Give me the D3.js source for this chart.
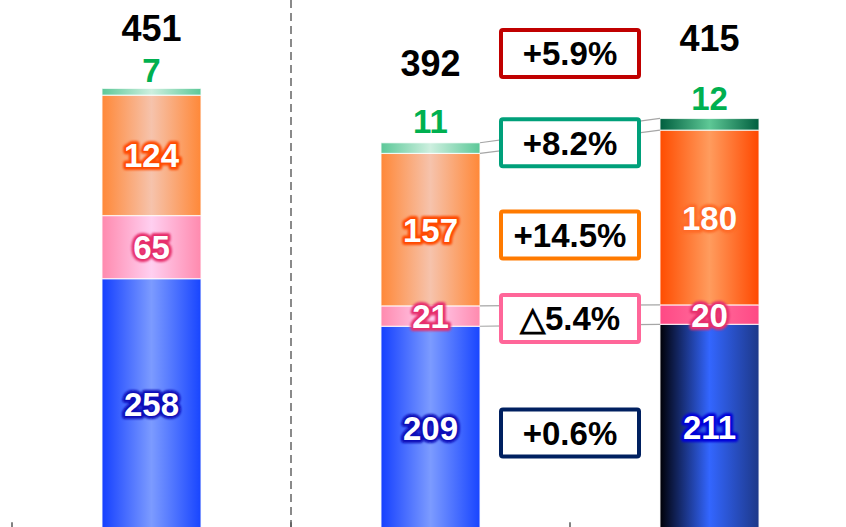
<!DOCTYPE html>
<html><head><meta charset="utf-8">
<script src="https://cdn.jsdelivr.net/npm/d3@7"></script>
<style>body{margin:0;background:#fff}svg{display:block}</style>
</head><body><svg id="c" width="846" height="527"></svg>
<script>
// ---- data ----
const categories = ["P1", "P2", "P3"];
const seriesKeys = ["blue", "pink", "orange", "green"];
const blueValues = [258, 209, 211];
const pinkValues = [65, 21, 20];
const orangeValues = [124, 157, 180];
const greenValues = [7, 11, 12];
const totalLabels = [451, 392, 415];
const changeLabels = ["+5.9%", "+8.2%", "+14.5%", "\u25B35.4%", "+0.6%"];
const changeLevels = [490, 398, 303, 217, 99];   // annotation anchors in data units

// ---- layout / styles ----
const W = 846, H = 527;
const svg = d3.select("#c");
const x = d3.scaleBand().domain(categories).range([12, 849]).paddingInner(0.645).paddingOuter(0.3225);
const y = d3.scaleLinear().domain([0, 545]).range([529.2, 0]);
const step = x.step(), bw = x.bandwidth();

const rows = categories.map((c, i) => ({cat: c, blue: blueValues[i], pink: pinkValues[i], orange: orangeValues[i], green: greenValues[i]}));
const stacked = d3.stack().keys(seriesKeys)(rows);

const grad = {
  light: {
    blue: [["0", "#1540FF"], ["0.5", "#7C9BFF"], ["1", "#1845FF"]],
    pink: [["0", "#FF8AAE"], ["0.5", "#FFCFF0"], ["1", "#FF8AAE"]],
    orange: [["0", "#FF8838"], ["0.5", "#F6C3AC"], ["1", "#FF8838"]],
    green: [["0", "#5CC898"], ["0.5", "#CDEFDF"], ["1", "#5CC898"]]
  },
  dark: {
    blue: [["0", "#000006"], ["0.5", "#3366FF"], ["1", "#1D3888"]],
    pink: [["0", "#FF4884"], ["0.5", "#FF6E9E"], ["1", "#FF4884"]],
    orange: [["0", "#FF4C00"], ["0.5", "#FF9C5E"], ["1", "#FF4800"]],
    green: [["0", "#005E3E"], ["0.5", "#5EC896"], ["1", "#005E3E"]]
  }
};
const glow = {
  light: {blue: "#0808B8", pink: "#E62E6C", orange: "#FF4A06", green: null},
  dark: {blue: "#0000D8", pink: "#E62E6C", orange: "#FF6A28", green: null}
};
const styleOf = i => (i === 2 ? "dark" : "light");

const defs = svg.append("defs");
["light", "dark"].forEach(st => {
  seriesKeys.forEach(k => {
    const g = defs.append("linearGradient").attr("id", `g-${st}-${k}`)
      .attr("x1", "0").attr("x2", "1").attr("y1", "0").attr("y2", "0");
    grad[st][k].forEach(s => g.append("stop").attr("offset", s[0]).attr("stop-color", s[1]));
  });
});
const f = defs.append("filter").attr("id", "glow").attr("x", "-20%").attr("y", "-30%").attr("width", "140%").attr("height", "160%");
f.append("feGaussianBlur").attr("stdDeviation", 1.1);

// dashed divider between first and second category
const div1 = x(categories[1]) - (step - bw) / 2;
svg.append("line").attr("x1", div1).attr("x2", div1).attr("y1", 0).attr("y2", H)
  .attr("stroke", "#8A8A8A").attr("stroke-width", 2).attr("stroke-dasharray", "8,5");

// axis ticks at category boundaries
const bounds = categories.map(c => x(c) - (step - bw) / 2);
svg.append("g").selectAll("line").data(bounds).join("line")
  .attr("x1", d => d).attr("x2", d => d)
  .attr("y1", y(0) - 7).attr("y2", y(0) + 4)
  .attr("stroke", "#595959").attr("stroke-width", 1.5);

// bars
const barG = svg.append("g");
stacked.forEach(layer => {
  barG.selectAll(null).data(layer).join("rect")
    .attr("x", d => x(d.data.cat))
    .attr("width", bw)
    .attr("y", d => y(d[1]))
    .attr("height", d => y(d[0]) - y(d[1]))
    .attr("fill", (d, i) => `url(#g-${styleOf(i)}-${layer.key})`)
    .attr("stroke", "rgba(255,255,255,0.75)").attr("stroke-width", 1.2);
});

// connector lines (green and pink segments) between bar 2 and bar 3
const connG = svg.append("g");
const xr = x(categories[1]) + bw, xl = x(categories[2]);
const conn = [];
["green", "pink"].forEach(k => {
  const layer = stacked.find(s => s.key === k);
  conn.push([layer[1][1], layer[2][1]]);
  conn.push([layer[1][0], layer[2][0]]);
});
connG.selectAll("line").data(conn).join("line")
  .attr("x1", xr).attr("x2", xl)
  .attr("y1", d => y(d[0])).attr("y2", d => y(d[1]))
  .attr("stroke", "#A6A6A6").attr("stroke-width", 1.2);

// inner segment labels
const font = "'Liberation Sans', Arial, sans-serif";
const labG = svg.append("g").attr("font-family", font).attr("font-weight", "bold").attr("text-anchor", "middle");
stacked.filter(l => l.key !== "green").forEach(layer => {
  layer.forEach((d, i) => {
    const cx = x(d.data.cat) + bw / 2;
    const cy = (y(d[0]) + y(d[1])) / 2 + 12;
    const v = d[1] - d[0];
    labG.append("text").attr("x", cx).attr("y", cy).attr("font-size", 33)
      .attr("fill", glow[styleOf(i)][layer.key]).attr("stroke", glow[styleOf(i)][layer.key])
      .attr("stroke-width", 6).attr("stroke-linejoin", "round").attr("filter", "url(#glow)").text(v);
    labG.append("text").attr("x", cx).attr("y", cy).attr("font-size", 33)
      .attr("fill", "#FFFFFF").text(v);
  });
});

// top (green) labels and totals
const greenLayer = stacked.find(s => s.key === "green");
const greenGap = [6.5, 9.5, 8.5];
const totalGap = [47, 67, 67];
greenLayer.forEach((d, i) => {
  const cx = x(d.data.cat) + bw / 2;
  labG.append("text").attr("x", cx).attr("y", y(d[1]) - greenGap[i]).attr("font-size", 33)
    .attr("fill", "#00B050").text(d[1] - d[0]);
  labG.append("text").attr("x", cx).attr("y", y(d[1]) - totalGap[i]).attr("font-size", 36)
    .attr("fill", "#000000").text(totalLabels[i]);
});

// change boxes
const boxColors = ["#C00000", "#00A07A", "#FF7A00", "#FF6699", "#002060"];
const bx = bounds[2];
const boxG = svg.append("g");
changeLabels.forEach((t, i) => {
  const cy = y(changeLevels[i]);
  boxG.append("rect").attr("x", bx - 69).attr("y", cy - 23.5).attr("width", 138).attr("height", 47)
    .attr("rx", 2).attr("fill", "#FFFFFF").attr("stroke", boxColors[i]).attr("stroke-width", 4);
  boxG.append("text").attr("x", bx).attr("y", cy + 12).attr("text-anchor", "middle")
    .attr("font-family", font).attr("font-weight", "bold").attr("font-size", 33)
    .attr("fill", "#000000").text(t);
});
</script></body></html>
